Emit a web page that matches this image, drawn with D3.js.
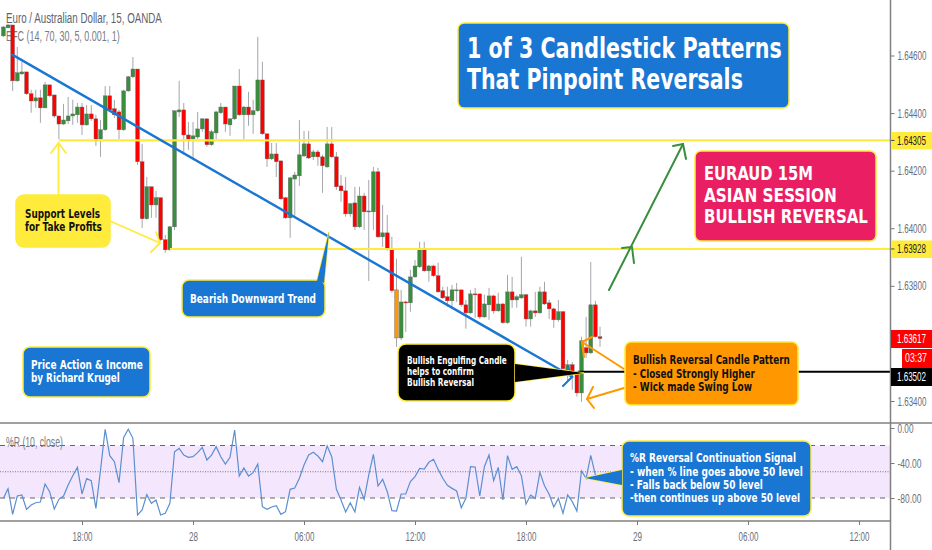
<!DOCTYPE html>
<html><head><meta charset="utf-8">
<script src="https://cdn.jsdelivr.net/npm/d3@7"></script>
<style>html,body{margin:0;padding:0;background:#fff}svg{display:block}</style>
</head><body><svg id="c" width="932" height="550"></svg>
<script>
// ---------- data ----------
const opens=[1.64668,1.64696,1.64706,1.64512,1.64536,1.64543,1.64467,1.64442,1.64453,1.64418,1.64498,1.64463,1.64390,1.64362,1.64373,1.64390,1.64394,1.64421,1.64359,1.64397,1.64380,1.64310,1.64342,1.64460,1.64415,1.64404,1.64342,1.64477,1.64526,1.64553,1.64231,1.64033,1.64144,1.64081,1.64106,1.63960,1.63925,1.64005,1.64404,1.64411,1.64324,1.64310,1.64317,1.64345,1.64380,1.64290,1.64331,1.64401,1.64421,1.64359,1.64380,1.64494,1.64394,1.64421,1.64394,1.64408,1.64515,1.64328,1.64241,1.64258,1.64234,1.64106,1.64036,1.64171,1.64182,1.64251,1.64293,1.64248,1.64265,1.64248,1.64213,1.64293,1.64248,1.64147,1.64130,1.64050,1.64088,1.64005,1.64112,1.64057,1.64057,1.64196,1.63970,1.63984,1.63928,1.63786,1.63619,1.63744,1.63741,1.63831,1.63866,1.63925,1.63852,1.63869,1.63835,1.63783,1.63762,1.63748,1.63783,1.63786,1.63734,1.63706,1.63772,1.63772,1.63692,1.63734,1.63765,1.63713,1.63737,1.63672,1.63779,1.63751,1.63758,1.63769,1.63685,1.63713,1.63706,1.63779,1.63741,1.63720,1.63682,1.63710,1.63508,1.63526,1.63501,1.63428,1.63585,1.63567,1.63734,1.63623];
const highs=[1.64703,1.64710,1.64706,1.64630,1.64578,1.64543,1.64481,1.64481,1.64481,1.64508,1.64498,1.64463,1.64390,1.64432,1.64456,1.64446,1.64435,1.64435,1.64428,1.64428,1.64394,1.64376,1.64494,1.64494,1.64446,1.64411,1.64481,1.64529,1.64595,1.64553,1.64293,1.64178,1.64144,1.64130,1.64106,1.63977,1.64008,1.64408,1.64512,1.64435,1.64369,1.64369,1.64404,1.64383,1.64380,1.64342,1.64408,1.64435,1.64421,1.64383,1.64494,1.64553,1.64425,1.64474,1.64446,1.64665,1.64578,1.64328,1.64296,1.64296,1.64234,1.64109,1.64178,1.64196,1.64376,1.64338,1.64338,1.64272,1.64272,1.64255,1.64352,1.64352,1.64265,1.64185,1.64178,1.64088,1.64144,1.64144,1.64123,1.64168,1.64213,1.64210,1.64081,1.64046,1.63970,1.63894,1.63786,1.63748,1.63856,1.63890,1.63953,1.63953,1.63873,1.63873,1.63880,1.63797,1.63797,1.63803,1.63810,1.63786,1.63751,1.63786,1.63793,1.63772,1.63769,1.63793,1.63769,1.63776,1.63741,1.63838,1.63831,1.63769,1.63901,1.63772,1.63717,1.63779,1.63797,1.63814,1.63751,1.63724,1.63751,1.63713,1.63543,1.63536,1.63505,1.63623,1.63692,1.63883,1.63748,1.63658];
const lows=[1.64665,1.64696,1.64477,1.64508,1.64533,1.64463,1.64401,1.64418,1.64366,1.64418,1.64456,1.64383,1.64310,1.64359,1.64362,1.64359,1.64366,1.64324,1.64356,1.64373,1.64286,1.64248,1.64338,1.64404,1.64383,1.64310,1.64338,1.64474,1.64522,1.64220,1.64001,1.64029,1.64036,1.64036,1.63956,1.63915,1.63922,1.63994,1.64387,1.64255,1.64272,1.64244,1.64310,1.64335,1.64283,1.64286,1.64310,1.64397,1.64335,1.64321,1.64376,1.64390,1.64310,1.64356,1.64328,1.64404,1.64324,1.64213,1.64237,1.64178,1.64099,1.64033,1.63967,1.64043,1.64147,1.64248,1.64241,1.64237,1.64217,1.64123,1.64210,1.64244,1.64133,1.64092,1.64040,1.64040,1.63994,1.64001,1.63994,1.63817,1.63994,1.63967,1.63935,1.63922,1.63776,1.63588,1.63612,1.63640,1.63710,1.63828,1.63862,1.63849,1.63814,1.63831,1.63776,1.63755,1.63727,1.63727,1.63744,1.63727,1.63651,1.63703,1.63689,1.63685,1.63689,1.63682,1.63703,1.63710,1.63668,1.63668,1.63724,1.63724,1.63755,1.63658,1.63658,1.63692,1.63703,1.63734,1.63685,1.63654,1.63675,1.63508,1.63467,1.63439,1.63415,1.63397,1.63550,1.63564,1.63619,1.63588];
const closes=[1.64699,1.64706,1.64512,1.64540,1.64543,1.64467,1.64442,1.64453,1.64418,1.64498,1.64460,1.64390,1.64362,1.64376,1.64390,1.64397,1.64421,1.64359,1.64397,1.64380,1.64310,1.64342,1.64460,1.64411,1.64394,1.64342,1.64477,1.64526,1.64553,1.64231,1.64033,1.64144,1.64081,1.64106,1.63960,1.63925,1.64005,1.64408,1.64411,1.64324,1.64310,1.64321,1.64345,1.64380,1.64290,1.64335,1.64404,1.64421,1.64362,1.64380,1.64494,1.64394,1.64421,1.64394,1.64408,1.64515,1.64328,1.64241,1.64258,1.64231,1.64102,1.64036,1.64175,1.64185,1.64255,1.64293,1.64244,1.64265,1.64248,1.64217,1.64293,1.64248,1.64144,1.64130,1.64050,1.64085,1.64005,1.64112,1.64057,1.64060,1.64196,1.63970,1.63984,1.63928,1.63783,1.63619,1.63744,1.63741,1.63831,1.63869,1.63925,1.63852,1.63869,1.63835,1.63779,1.63758,1.63748,1.63786,1.63786,1.63734,1.63706,1.63772,1.63769,1.63692,1.63737,1.63765,1.63713,1.63737,1.63672,1.63779,1.63751,1.63762,1.63769,1.63685,1.63713,1.63706,1.63779,1.63737,1.63720,1.63682,1.63710,1.63512,1.63526,1.63501,1.63428,1.63609,1.63567,1.63734,1.63623,1.63617];
const percentR=[-80.4,-69.3,-98.7,-77.7,-76.6,-93.0,-88.0,-85.4,-84.6,-64.0,-72.8,-92.6,-81.5,-77.7,-65.2,-54.5,-45.0,-75.4,-57.9,-60.2,-91.8,-48.0,-1.5,-31.6,-38.5,-62.5,-10.7,-1.5,-11.8,-99.4,-93.7,-76.2,-86.1,-82.3,-99.4,-97.5,-86.1,-27.1,-23.3,-30.9,-33.5,-32.8,-28.2,-22.1,-36.6,-30.9,-21.3,-32.8,-41.2,-33.5,-2.3,-54.9,-45.7,-54.9,-51.1,-41.2,-89.9,-93.0,-90.3,-88.8,-98.7,-95.6,-70.1,-68.6,-57.5,-42.3,-30.9,-27.8,-32.0,-38.5,-20.6,-32.8,-70.1,-82.3,-96.0,-85.4,-96.0,-67.8,-81.5,-53.7,-30.1,-66.3,-58.7,-72.8,-94.5,-94.9,-75.4,-75.4,-61.3,-55.6,-46.1,-46.9,-39.2,-35.8,-47.3,-57.5,-65.5,-69.0,-72.0,-91.1,-80.4,-44.2,-44.6,-77.7,-44.2,-30.9,-60.2,-45.0,-82.3,-31.6,-47.3,-44.2,-54.5,-86.9,-76.6,-80.4,-50.7,-65.9,-75.8,-90.3,-80.4,-97.5,-76.6,-84.2,-94.9,-49.2,-57.5,-31.2,-53.7];
const highlightedBar=85;
const priceTicks=[1.646,1.644,1.642,1.640,1.638,1.634];
const supportLevels=[1.64305,1.63928];
const supportStartBars=[12,36];
const lastPrice=1.63617, countdown="03:37", markedPrice=1.63502;
const pctTicks=[0,-40,-80];
const pctBands=[-20,-80], pctMid=-50;
const timeTickBars=[17,41,65,89,113,137,161,185];
const timeTickLabels=["18:00","28","06:00","12:00","18:00","29","06:00","12:00"];
const trend={bars:[1.9,123],prices:[1.64603,1.63484]};

// ---------- scales ----------
const W=932,H=550,axisX=890.5;
const x=d3.scaleLinear().domain([0,185]).range([3.4,859]);
const y=d3.scaleLinear().domain([1.646,1.634]).range([55.5,401]);
const yP=d3.scaleLinear().domain([0,-80]).range([428,498]);
const svg=d3.select("#c");
const SANS="'Liberation Sans',Arial,sans-serif", BOLD="'DejaVu Sans',Verdana,sans-serif";
const BLUE="#1976d2",YEL="#ffeb3b",RED="#ff0000",GRN="#388e3c",ORG="#ff9800",PINK="#e91e63",GREY="#787b86";

// the reference's lettering is horizontally squeezed: fit each text to its width with a scale
function squeeze(sel,widthOf){
  sel.each(function(d,i){
    const n=this.getComputedTextLength(), w=widthOf(d,i), ax=+this.getAttribute("x")||0;
    this.setAttribute("transform",`translate(${ax},0) scale(${w/n},1) translate(${-ax},0)`);
  });
}
function txt(s,px,py,w,size,fill,weight,fam){
  const t=svg.append("text").attr("x",px).attr("y",py)
    .attr("font-family",fam||BOLD).attr("font-size",size).attr("font-weight",weight||"bold").attr("fill",fill).text(s);
  squeeze(t,()=>w);
}
function box(x0,y0,x1,y1,r,fill,tail,sw){
  const stroke=YEL; sw=sw||1.5;
  const line=d3.line();
  if(tail) svg.append("path").attr("d",line(tail)+"Z").attr("fill",fill).attr("stroke",stroke).attr("stroke-width",sw).attr("stroke-linejoin","miter");
  svg.append("rect").attr("x",x0).attr("y",y0).attr("width",x1-x0).attr("height",y1-y0).attr("rx",r).attr("ry",r)
    .attr("fill",fill).attr("stroke",stroke).attr("stroke-width",sw);
  if(tail) svg.append("path").attr("d",line(tail)+"Z").attr("fill",fill);
}
function poly(pts,color,w){
  svg.append("path").attr("d",d3.line()(pts)).attr("fill","none").attr("stroke",color).attr("stroke-width",w)
    .attr("stroke-linecap","round").attr("stroke-linejoin","round");
}

// ---------- header ----------
txt("Euro / Australian Dollar, 15, OANDA",6,23,156,14.5,"#5f626c","normal",SANS);
txt("EFC (14, 70, 30, 5, 0.001, 1)",6,41,114,14.5,GREY,"normal",SANS);

// ---------- %R pane ----------
svg.append("rect").attr("x",0).attr("width",axisX).attr("y",yP(pctBands[0])).attr("height",yP(pctBands[1])-yP(pctBands[0])).attr("fill","#f4e7fd");
pctBands.forEach(v=>svg.append("line").attr("x1",0).attr("x2",axisX-4).attr("y1",yP(v)).attr("y2",yP(v))
  .attr("stroke","#666").attr("stroke-width",1).attr("stroke-dasharray","5 5"));
svg.append("line").attr("x1",0).attr("x2",axisX).attr("y1",yP(pctMid)).attr("y2",yP(pctMid))
  .attr("stroke","#777").attr("stroke-width",1).attr("stroke-dasharray","1 1.5");
svg.append("path").datum(percentR).attr("fill","none").attr("stroke","#5b8fd0").attr("stroke-width",1.2)
  .attr("d",d3.line().x((d,i)=>x(i)).y(d=>yP(d)));
txt("%R (10, close)",6,447,57,14,GREY,"normal",SANS);

// pane borders
svg.append("line").attr("x1",0).attr("x2",W).attr("y1",423).attr("y2",423).attr("stroke","#808080").attr("stroke-width",1.5);
svg.append("line").attr("x1",0).attr("x2",axisX).attr("y1",521).attr("y2",521).attr("stroke","#808080").attr("stroke-width",1.5);

// ---------- candles ----------
const bars=opens.map((o,i)=>({i,o,h:highs[i],l:lows[i],c:closes[i]}));
const cg=svg.append("g");
cg.selectAll("line").data(bars).join("line")
  .attr("x1",d=>x(d.i)).attr("x2",d=>x(d.i)).attr("y1",d=>y(d.h)).attr("y2",d=>y(d.l)).attr("stroke","#a4a6ac").attr("stroke-width",1);
cg.selectAll("rect").data(bars).join("rect")
  .attr("x",d=>x(d.i)-1.9).attr("width",3.8)
  .attr("y",d=>y(Math.max(d.o,d.c))).attr("height",d=>Math.max(1,Math.abs(y(d.o)-y(d.c))))
  .attr("fill",d=>d.i===highlightedBar?ORG:(d.c>=d.o?GRN:RED)).attr("stroke","#666").attr("stroke-width",.4);

// ---------- levels ----------
supportLevels.forEach((v,k)=>svg.append("line").attr("x1",x(supportStartBars[k])).attr("x2",axisX)
  .attr("y1",y(v)).attr("y2",y(v)).attr("stroke",YEL).attr("stroke-width",2.2));
svg.append("line").attr("x1",x(124.2)).attr("x2",axisX).attr("y1",y(markedPrice)).attr("y2",y(markedPrice)).attr("stroke","#000").attr("stroke-width",2);

// ---------- trend line and arrows ----------
poly(trend.bars.map((b,i)=>[x(b),y(trend.prices[i])]),BLUE,2.4);
poly([[563,386],[572,377],[568,367]],BLUE,2);
poly([[58.5,196],[58.5,143]],YEL,1.8); poly([[51,153],[58.5,143],[66,153]],YEL,1.8);
poly([[110,221],[160,243]],YEL,1.8); poly([[156,232],[160,243],[151,252]],YEL,1.8);
poly([[609,290],[683,144]],GRN,2); poly([[622,248],[632,247],[634,263]],GRN,2); poly([[673,146],[683,144],[686,159]],GRN,2);
poly([[624,369],[582,342]],ORG,2); poly([[592,337],[582,342],[584,357]],ORG,2);
poly([[624,388],[587,399]],ORG,2); poly([[593,387],[587,399],[594,408]],ORG,2);

// ---------- axes ----------
function styleAxis(g){
  g.select(".domain").remove();
  g.selectAll("line").attr("stroke","#777");
  g.selectAll("text").attr("font-family",SANS).attr("font-size",12.5).attr("fill","#6b6e78");
}
const gY=svg.append("g").attr("transform",`translate(${axisX},0)`)
  .call(d3.axisRight(y).tickValues(priceTicks).tickFormat(d3.format(".5f")).tickSize(4).tickPadding(3)).call(styleAxis);
squeeze(gY.selectAll("text"),()=>29);
const gP=svg.append("g").attr("transform",`translate(${axisX},0)`)
  .call(d3.axisRight(yP).tickValues(pctTicks).tickFormat(v=>d3.format(".2f")(v).replace("\u2212","-")).tickSize(4).tickPadding(3)).call(styleAxis);
squeeze(gP.selectAll("text"),d=>d===0?16:24);
const gT=svg.append("g").attr("transform","translate(0,521)")
  .call(d3.axisBottom(x).tickValues(timeTickBars).tickFormat((d,i)=>timeTickLabels[i]).tickSize(4).tickPadding(7)).call(styleAxis);
squeeze(gT.selectAll("text"),(d,i)=>timeTickLabels[i].length>2?20:9);
svg.append("line").attr("x1",axisX).attr("x2",axisX).attr("y1",0).attr("y2",H).attr("stroke","#808080").attr("stroke-width",1.5);

// price tags
function tag(x0,y0,x1,y1,fill,label,tx,base,w,color){
  svg.append("rect").attr("x",x0).attr("y",y0).attr("width",x1-x0).attr("height",y1-y0).attr("fill",fill);
  txt(label,tx,base,w,12.5,color,"normal",SANS);
}
const f5=d3.format(".5f");
supportLevels.forEach(v=>{
  const p=y(v);
  tag(891,p-8.5,932,p+9,YEL,f5(v),897,p+4.3,29,"#222");
  svg.append("line").attr("x1",891).attr("x2",894.5).attr("y1",p).attr("y2",p).attr("stroke","#444");
});
tag(891,330,932,348,RED,f5(lastPrice),897,343,29,"#fff");
tag(902,349,932,368,RED,countdown,905,362,22,"#fff");
tag(891,368,932,386,"#000",f5(markedPrice),897,381,29,"#fff");

// ---------- call-outs ----------
box(458,23,789,108,6,BLUE);
txt("1 of 3 Candlestick Patterns",467,58,315,29,"#fff");
txt("That Pinpoint Reversals",467,89,276,29,"#fff");

box(695,151,876,241,6,PINK);
txt("EURAUD 15M",704,180,109,20,"#fff");
txt("ASIAN SESSION",704,202,133,20,"#fff");
txt("BULLISH REVERSAL",704,223,164,20,"#fff");

box(16,195,110,247,8,YEL);
txt("Support Levels",25,218,75,12.3,"#111");
txt("for Take Profits",25,231,77,12.3,"#111");

box(182,280,325,317,7,BLUE,[[317,281],[324,283],[329,232]]);
txt("Bearish Downward Trend",190,303,126,12.3,"#fff");

box(23,347,150,397,7,BLUE);
txt("Price Action & Income",31,369,112,12.3,"#fff");
txt("by Richard Krugel",31,382,89,12.3,"#fff");

box(398,344,515,401,8,"#000",[[515,364],[584,373],[515,382]]);
txt("Bullish Engulfing Candle",407,364,100,10.3,"#fff");
txt("helps to confirm",407,375,67,10.3,"#fff");
txt("Bullish Reversal",407,386,67,10.3,"#fff");

box(625,342,798,405,6,ORG);
txt("Bullish Reversal Candle Pattern",633,364,157,12.3,"#111");
txt("- Closed Strongly Higher",633,378,122,12.3,"#111");
txt("- Wick made Swing Low",633,391,119,12.3,"#111");

box(622,441,811,516,7,BLUE,[[622,470],[585,478],[622,485]]);
txt("%R Reversal Continuation Signal",630,462,166,12.3,"#fff");
txt("- when % line goes above 50 level",630,476,173,12.3,"#fff");
txt("- Falls back below 50 level",630,489,133,12.3,"#fff");
txt("-then continues up above 50 level",630,502,170,12.3,"#fff");
</script></body></html>
